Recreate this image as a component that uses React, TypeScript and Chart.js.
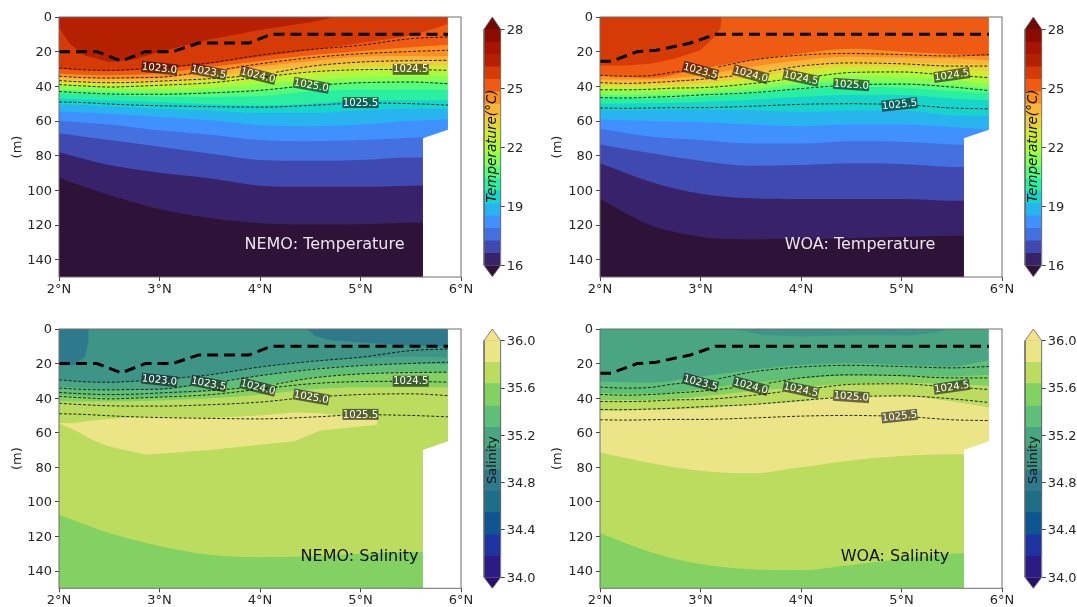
import React, { useEffect, useRef } from "react";
import { Chart, registerables } from "chart.js";

Chart.register(...registerables);

const FONT = "'DejaVu Sans'";
const tickColor = "#262626";
const TICK_SIZE = 13;

const bandLon = [2, 2.5, 3, 3.5, 4, 4.5, 5, 5.5, 5.87];
const lineLon = [2, 2.25, 2.5, 2.75, 3, 3.5, 4, 4.5, 5, 5.5, 5.87];

const tempLevels = [16, 16.63, 17.26, 17.89, 18.53, 19.16, 19.79, 20.42, 21.05, 21.68, 22.32, 22.95, 23.58, 24.21, 24.84, 25.47, 26.11, 26.74, 27.37, 28];
const salLevels = [34, 34.18, 34.36, 34.55, 34.73, 34.91, 35.09, 35.27, 35.45, 35.64, 35.82, 36];
const tempTicks = [16, 19, 22, 25, 28];
const salTicks = [34, 34.4, 34.8, 35.2, 35.6, 36];

// index 0 = below range, last = above range
const tempColors = ["#2f1238", "#38236a", "#4049b0", "#4570e0", "#4090ff", "#28b4ee", "#18d5cc", "#2aefa0", "#54fb7c", "#86fe53", "#aff93c", "#d0ea35", "#ecd03a", "#fbb63a", "#fb8f22", "#ef5b12", "#d63a07", "#b52003", "#a71502", "#8b0a02", "#6f0a08"];
const salColors = ["#2a106c", "#2d1b85", "#1e33a0", "#0f5591", "#1f6e87", "#2e7a8c", "#3f9488", "#4aa584", "#5fbf78", "#83d063", "#bcdc60", "#ece588", "#f7e08a"];

// NEMO temperature: top depth of each band, keyed by band index
const nemoT15 = [30, 31, 29.8, 27, 23, 19, 15, 10.6, 4];
const nemoT14 = [32.7, 33.6, 32.3, 28.8, 25.4, 22, 19.6, 17.5, 16];
const nemoT13 = [34, 35.6, 35, 31.7, 28.5, 25.6, 23, 22.5, 22.7];
const nemoT12 = [36, 37, 36.5, 34.2, 31, 28.3, 26, 25.5, 25.6];
const nemoT11 = [37.5, 38.5, 38, 36, 33.6, 30.8, 28.8, 28, 28];
const nemoT10 = [39, 40, 40, 38.5, 36, 33.6, 31.7, 31.2, 31.3];
const nemoT9 = [40, 41, 41.7, 40.8, 38.5, 36.5, 34.6, 34, 34];
const nemoT8 = [42, 43, 43.6, 43, 42, 39.4, 37.5, 37.3, 37.5];
const nemoT7 = [44, 45, 46, 46, 45.6, 43, 42, 42, 42];
const nemoT6 = [47, 48, 49, 50.4, 51, 50, 48, 48, 48];
const nemoT5 = [50, 51.5, 53, 54, 55.4, 55.4, 53.8, 53, 52.9];
const nemoT4 = [54.4, 55.8, 57.7, 59.6, 62.5, 63, 62, 60, 59];
const nemoT3 = [60, 62, 65.4, 68, 71, 71.7, 71, 69.6, 69];
const nemoT2 = [67, 71, 74.8, 78.7, 82.5, 83, 82.5, 81, 81];
const nemoT1 = [78, 85.4, 89.8, 93, 97.3, 98, 98, 97.3, 97];
const nemoT0 = [92.7, 102.7, 110.8, 116, 119, 119.7, 119.5, 118.7, 118.5];
const nemoTBlobLon = [2, 2.1, 2.25, 2.5, 2.75, 3, 3.5, 4, 4.5, 4.74];
const nemoTBlob = [6, 15, 22, 26, 24.5, 20, 13, 7.5, 3, 0];

// WOA temperature
const woaT14 = [33.6, 35, 29.8, 25, 21, 18.3, 20, 21.5, 22.5];
const woaT13 = [36, 36, 33.6, 28.8, 25, 23, 23.5, 24, 25];
const woaT12 = [37.5, 38, 36.5, 32.3, 28, 26, 26.3, 27, 27.5];
const woaT11 = [39.4, 39.6, 38.5, 35, 30.8, 28.5, 28.8, 30, 31];
const woaT10 = [41, 41.2, 40, 37.7, 34.2, 31, 31.5, 33.5, 35];
const woaT9 = [42.7, 42.8, 42, 39.4, 36.5, 34, 34.6, 36, 38.5];
const woaT8 = [45, 45, 43.8, 42, 38.8, 37.5, 38, 39.4, 41.3];
const woaT7 = [47, 47, 46, 44, 41.7, 40.4, 40.8, 42.7, 44];
const woaT6 = [50, 49.8, 49, 47.7, 46, 44.8, 45, 47, 48];
const woaT5 = [53.8, 53.6, 53.5, 53.8, 54.8, 54, 54, 56.7, 57];
const woaT4 = [59, 60, 60.6, 62, 63, 62, 62, 63.5, 65];
const woaT3 = [64.4, 69, 71, 73, 73, 71.7, 72, 73.5, 74];
const woaT2 = [73.5, 78.5, 83, 85.8, 85.4, 84.4, 84.8, 86.5, 86.7];
const woaT1 = [84.4, 95, 102, 104.6, 105, 105, 105, 106, 106];
const woaT0 = [105, 120, 126.8, 128.3, 128, 127.6, 126.8, 126.2, 126];
const woaTBlobLon = [2, 2.25, 2.5, 2.75, 3, 3.15, 3.2, 3.21];
const woaTBlob = [28, 28, 27, 24, 19, 11, 6, 0];

// NEMO salinity
const nemoS7 = [29, 31, 29, 26.5, 22, 18.5, 17, 16, 16.5];
const nemoS8 = [33.5, 35, 35, 31, 27, 23, 21, 20, 20.5];
const nemoS9 = [38, 39.5, 39, 36, 33, 28, 26, 25, 25];
const nemoS10 = [42, 42, 41.3, 40, 38, 35, 33.7, 33.7, 33.7];
const nemoSBottom = [107.5, 118, 125.5, 130.6, 132, 131.5, 130, 129, 129];
const nemoLensLon = [2, 2.14, 2.33, 2.5, 2.87, 3.5, 4, 4.34, 4.6, 5.17];
const nemoLensTop = [54.4, 54.5, 53, 52, 50.6, 51.5, 50, 48.3, 48.8, 52.5];
const nemoLensBase = [54.6, 58, 64, 68, 72.7, 70, 67, 65, 58.7, 55.4];
const nemoSBlobLeftLon = [2, 2.15, 2.26, 2.29, 2.295];
const nemoSBlobLeft = [21, 21, 16, 8, 0];
const nemoSBlobRightLon = [4.47, 4.55, 4.7, 5.2, 5.5, 5.87];
const nemoSBlobRight = [0, 4, 6.5, 8.5, 9.5, 10];

// WOA salinity
const woaS8 = [30.4, 31, 27.5, 23.7, 20.8, 19.8, 20.8, 21.7, 17.9];
const woaS9 = [37, 37.5, 34.8, 31, 28.5, 27, 27, 27.5, 26.5];
const woaS10 = [41, 41, 39, 36, 33.6, 31.7, 31.3, 31.7, 32.9];
const woaS11 = [47.7, 46.7, 46, 43.8, 42, 38.7, 38.7, 42, 45.4];
const woaS10Low = [71.5, 77.5, 82, 83.5, 80, 76, 73.5, 72.5, 72.5];
const woaSBottom = [118, 129, 136, 139, 139.5, 136.5, 133, 130, 129];
const woaSBlobLon = [3.34, 3.62, 3.99, 4.64, 5.11, 5.38, 5.48];
const woaSBlob = [0, 3.5, 4.4, 3.5, 3.8, 1.5, 0];

// Isopycnals
const nemoRhoNames = ["1023.0", "1023.5", "1024.0", "1024.5", "1025.0", "1025.5"];
const nemoRho0 = [29.4, 30.5, 30.8, 30.2, 29.5, 26.5, 22, 18.8, 16.3, 12.5, 11.5];
const nemoRho1 = [34.2, 35, 35.2, 35, 34.8, 31.5, 27, 23.5, 21.2, 19.9, 19.2];
const nemoRho2 = [36.7, 37.5, 37.9, 37.7, 37, 35.6, 33.5, 28.5, 26, 25.2, 25];
const nemoRho3 = [39, 39.8, 40.4, 40, 39.4, 38, 34.8, 31.7, 30.4, 30.2, 30.8];
const nemoRho4 = [43, 43.8, 44.4, 44.6, 44.6, 43.8, 42.3, 39.4, 37.9, 37.5, 38.5];
const nemoRho5 = [49, 49.4, 50.2, 50.8, 51.2, 51.7, 52, 51, 49.4, 50, 50.8];
const nemoLabelLon = [[3], [3.49], [3.98], [5.5], [4.51], [5]];
const nemoLabelTilt = [[6], [11], [14], [0], [10], [0]];

const woaRhoNames = ["1023.5", "1024.0", "1024.5", "1025.0", "1025.5"];
const woaRho0 = [33.6, 34.2, 33.8, 31.7, 31, 25, 22, 21, 21.7, 22.5, 21.7];
const woaRho1 = [37.9, 38.3, 37.9, 37, 36, 33, 28.3, 26.5, 27, 28.3, 28.3];
const woaRho2 = [42, 42, 41.7, 41, 40.8, 38.5, 35, 32, 31.7, 33.5, 35];
const woaRho3 = [46.5, 46.7, 46.3, 45.8, 45, 43.7, 41.3, 39, 38.7, 40.4, 42.5];
const woaRho4 = [52.5, 52.7, 52.5, 52.3, 52.3, 51.5, 50.4, 50, 50.4, 52.5, 53];
const woaLabelLon = [[3], [3.5], [4, 5.5], [4.5], [4.98]];
const woaLabelTilt = [[15], [15], [12, -8], [4], [-6]];

// Mixed layer depth
const nemoMldLon = [2, 2.38, 2.62, 2.86, 3.13, 3.39, 3.89, 4.11, 5.87];
const nemoMld = [20, 20, 25.4, 20, 20, 15, 15, 10, 10];
const woaMldLon = [2, 2.11, 2.37, 2.56, 2.9, 3.15, 5.87];
const woaMld = [25.6, 25.6, 20, 19.2, 15, 10, 10];

// No-data area
const maskLon = [5.62, 5.62, 5.87, 5.87, 6];
const maskDepth = [150, 70, 65, 0, 0];

const zip = (xs: number[], ys: (number | null)[]) => xs.map((x, i) => ({ x, y: ys[i] }));

function depthAt(lons: number[], ds: number[], lon: number) {
  for (let i = 1; i < lons.length; i++) {
    if (lon <= lons[i]) {
      const t = (lon - lons[i - 1]) / (lons[i] - lons[i - 1]);
      return ds[i - 1] + t * (ds[i] - ds[i - 1]);
    }
  }
  return ds[ds.length - 1];
}

function withGaps(lons: number[], ds: number[], centres: number[]) {
  const half = 0.18;
  const all: { x: number; y: number | null }[] = [];
  const inGap = (x: number) => centres.some((c) => Math.abs(x - c) < half);
  lons.forEach((x, i) => {
    if (!inGap(x)) all.push({ x, y: ds[i] });
    centres.forEach((c) => {
      const next = lons[i + 1];
      if (next === undefined) return;
      if (x < c - half && next > c - half) all.push({ x: c - half, y: depthAt(lons, ds, c - half) });
      if (x < c && next >= c) all.push({ x: c, y: null });
      if (x < c + half && next > c + half) all.push({ x: c + half, y: depthAt(lons, ds, c + half) });
    });
  });
  return all;
}

const fillBand = (lons: number[], ds: number[], color: string, to = 150, smooth = true) => ({
  data: zip(lons, ds),
  borderWidth: 0,
  borderColor: "transparent",
  backgroundColor: color,
  pointRadius: 0,
  fill: { value: to },
  ...(smooth ? { cubicInterpolationMode: "monotone" } : { tension: 0 }),
});

const edgeOnly = (lons: number[], ds: number[]) => ({
  data: zip(lons, ds),
  borderWidth: 0,
  borderColor: "transparent",
  pointRadius: 0,
  fill: false,
  tension: 0,
});

const fillToPrevious = (lons: number[], ds: number[], color: string) => ({
  data: zip(lons, ds),
  borderWidth: 0,
  borderColor: "transparent",
  backgroundColor: color,
  pointRadius: 0,
  fill: "-1",
  tension: 0,
});

interface PanelSpec {
  left: number; right: number; top: number; bottom: number;
  canvasLeft: number; canvasTop: number; canvasW: number; canvasH: number;
  layers: any[];
  rhoNames: string[]; rhos: number[][]; labelLon: number[][]; labelTilt: number[][];
  mldLon: number[]; mld: number[];
  title: string; titleColor: string; titleX: number; titleY: number;
}

function buildPanel(canvas: HTMLCanvasElement, p: PanelSpec) {
  const rhoSets = p.rhos.map((ds, i) => ({
    data: withGaps(lineLon, ds, p.labelLon[i]),
    borderColor: "#111",
    borderWidth: 0.9,
    borderDash: [3, 1.8],
    pointRadius: 0,
    fill: false,
    spanGaps: false,
    cubicInterpolationMode: "monotone",
  }));
  const mldSet = {
    data: zip(p.mldLon, p.mld),
    borderColor: "#000",
    borderWidth: 3,
    borderDash: [11, 6],
    pointRadius: 0,
    fill: false,
    tension: 0,
  };
  const mask = {
    data: zip(maskLon, maskDepth),
    borderWidth: 0,
    borderColor: "transparent",
    backgroundColor: "#fff",
    pointRadius: 0,
    fill: { value: 150 },
    tension: 0,
  };
  const all = [...p.layers, mask, ...rhoSets, mldSet].map((d, i, arr) => ({ ...d, order: arr.length - i }));
  const overlay = {
    id: "overlay",
    afterDatasetsDraw(chart: any) {
      const { ctx, chartArea: a, scales } = chart;
      ctx.save();
      ctx.textAlign = "center";
      ctx.textBaseline = "middle";
      ctx.font = `10.1px ${FONT}`;
      p.rhos.forEach((ds, i) => {
        p.labelLon[i].forEach((lon, j) => {
          const cx = scales.x.getPixelForValue(lon);
          const cy = scales.y.getPixelForValue(depthAt(lineLon, ds, lon));
          ctx.save();
          ctx.translate(cx, cy);
          ctx.rotate((p.labelTilt[i][j] * Math.PI) / 180);
          ctx.fillStyle = "rgba(0,0,0,0.55)";
          ctx.fillRect(-18, -5.5, 36, 11);
          ctx.fillStyle = "#fff";
          ctx.fillText(p.rhoNames[i], 0, 0.5);
          ctx.restore();
        });
      });
      ctx.fillStyle = p.titleColor;
      ctx.font = `16px ${FONT}`;
      ctx.fillText(p.title, p.titleX - p.canvasLeft, p.titleY - p.canvasTop);
      ctx.strokeStyle = "#6e6e6e";
      ctx.lineWidth = 1;
      ctx.strokeRect(a.left, a.top, a.right - a.left, a.bottom - a.top);
      ctx.restore();
    },
  };
  return new Chart(canvas, {
    type: "line",
    data: { datasets: all as any },
    plugins: [overlay],
    options: {
      animation: false,
      responsive: false,
      events: [],
      layout: {
        padding: {
          left: 0,
          top: p.top - p.canvasTop,
          right: p.canvasLeft + p.canvasW - p.right,
          bottom: 0,
        },
      },
      plugins: { legend: { display: false }, tooltip: { enabled: false }, title: { display: false } },
      scales: {
        x: {
          type: "linear",
          min: 2,
          max: 6,
          border: { display: false },
          grid: { drawOnChartArea: false, drawTicks: true, tickLength: 4, tickColor: "#444" },
          ticks: {
            stepSize: 1,
            includeBounds: false,
            maxRotation: 0,
            padding: 1,
            color: tickColor,
            font: { family: FONT, size: TICK_SIZE },
            callback: (v: any) => `${v}°N`,
          },
          afterFit: (s: any) => { s.height = p.canvasTop + p.canvasH - p.bottom; },
        },
        y: {
          type: "linear",
          reverse: true,
          min: 0,
          max: 150,
          border: { display: false },
          grid: { drawOnChartArea: false, drawTicks: true, tickLength: 4, tickColor: "#444" },
          title: { display: true, text: "(m)", color: tickColor, font: { family: FONT, size: TICK_SIZE }, padding: { top: 10, bottom: 0 } },
          ticks: {
            stepSize: 20,
            includeBounds: false,
            padding: 3,
            labelOffset: 1,
            color: tickColor,
            font: { family: FONT, size: TICK_SIZE },
          },
          afterFit: (s: any) => { s.width = p.left - p.canvasLeft; },
        },
      },
    } as any,
  });
}

interface BarSpec {
  left: number; right: number; top: number; bottom: number;
  canvasLeft: number; canvasTop: number; canvasW: number; canvasH: number;
  levels: number[]; colors: string[]; ticks: number[]; min: number; max: number;
  label: string; italic: boolean; labelY: number; labelSize: number; decimals: number;
}

function buildBar(canvas: HTMLCanvasElement, b: BarSpec) {
  const lo = b.levels[0];
  const hi = b.levels[b.levels.length - 1];
  const cols = b.colors;
  const sets: any[] = [];
  const base = { borderWidth: 0, borderColor: "transparent", pointRadius: 0, tension: 0 };
  b.levels.slice(0, -1).forEach((lev, i) => {
    sets.push({ ...base, data: [{ x: 0, y: lev }, { x: 1, y: lev }], backgroundColor: cols[i + 1], fill: { value: hi } });
  });
  sets.push({ ...base, data: [{ x: 0, y: lo }, { x: 0.5, y: b.min }, { x: 1, y: lo }], backgroundColor: cols[0], fill: { value: lo } });
  sets.push({ ...base, data: [{ x: 0, y: hi }, { x: 0.5, y: b.max }, { x: 1, y: hi }], backgroundColor: cols[cols.length - 1], fill: { value: hi } });
  sets.push({
    data: [{ x: 0, y: lo }, { x: 0.5, y: b.min }, { x: 1, y: lo }, { x: 1, y: hi }, { x: 0.5, y: b.max }, { x: 0, y: hi }, { x: 0, y: lo }],
    borderColor: "#666",
    borderWidth: 0.8,
    pointRadius: 0,
    fill: false,
    tension: 0,
    clip: 2,
  });
  const all = sets.map((d, i, arr) => ({ ...d, order: arr.length - i }));
  const overlay = {
    id: "barLabel",
    afterDatasetsDraw(chart: any) {
      const { ctx, chartArea: a } = chart;
      ctx.save();
      ctx.translate((a.left + a.right) / 2, b.labelY - b.canvasTop);
      ctx.rotate(-Math.PI / 2);
      ctx.textAlign = "center";
      ctx.textBaseline = "middle";
      ctx.fillStyle = "#111";
      ctx.font = `${b.italic ? "italic " : ""}${b.labelSize}px ${FONT}`;
      ctx.fillText(b.label, 0, 0);
      ctx.restore();
    },
  };
  return new Chart(canvas, {
    type: "line",
    data: { datasets: all },
    plugins: [overlay],
    options: {
      animation: false,
      responsive: false,
      events: [],
      layout: { padding: { left: b.left - b.canvasLeft, top: b.top - b.canvasTop, right: 0, bottom: b.canvasTop + b.canvasH - b.bottom } },
      plugins: { legend: { display: false }, tooltip: { enabled: false } },
      scales: {
        x: { type: "linear", min: 0, max: 1, display: false },
        y: {
          type: "linear",
          position: "right",
          min: b.min,
          max: b.max,
          border: { display: false },
          grid: { drawOnChartArea: false, drawTicks: true, tickLength: 4, tickColor: "#444" },
          ticks: {
            padding: 2,
            labelOffset: 1,
            color: tickColor,
            font: { family: FONT, size: TICK_SIZE },
            autoSkip: false,
            callback: (v: any) => Number(v).toFixed(b.decimals),
          },
          afterBuildTicks: (s: any) => { s.ticks = b.ticks.map((value) => ({ value })); },
          afterFit: (s: any) => { s.width = b.canvasLeft + b.canvasW - b.right; },
        },
      },
    } as any,
  });
}

const nemoTempLayers = () => {
  const bands = [nemoT15, nemoT14, nemoT13, nemoT12, nemoT11, nemoT10, nemoT9, nemoT8, nemoT7, nemoT6, nemoT5, nemoT4, nemoT3, nemoT2, nemoT1, nemoT0];
  return [
    fillBand([2, 5.87], [0, 0], tempColors[16], 150, false),
    fillBand(nemoTBlobLon, nemoTBlob, tempColors[17], 0, false),
    ...bands.map((d, i) => fillBand(bandLon, d, tempColors[15 - i])),
  ];
};
const woaTempLayers = () => {
  const bands = [woaT14, woaT13, woaT12, woaT11, woaT10, woaT9, woaT8, woaT7, woaT6, woaT5, woaT4, woaT3, woaT2, woaT1, woaT0];
  return [
    fillBand([2, 5.87], [0, 0], tempColors[15], 150, false),
    fillBand(woaTBlobLon, woaTBlob, tempColors[16], 0, false),
    ...bands.map((d, i) => fillBand(bandLon, d, tempColors[14 - i])),
  ];
};
const nemoSalLayers = () => [
  fillBand([2, 5.87], [0, 0], salColors[6], 150, false),
  fillBand(nemoSBlobLeftLon, nemoSBlobLeft, salColors[5], 0, false),
  fillBand(nemoSBlobRightLon, nemoSBlobRight, salColors[5], 0, false),
  fillBand(bandLon, nemoS7, salColors[7]),
  fillBand(bandLon, nemoS8, salColors[8]),
  fillBand(bandLon, nemoS9, salColors[9]),
  fillBand(bandLon, nemoS10, salColors[10]),
  edgeOnly(nemoLensLon, nemoLensTop),
  fillToPrevious(nemoLensLon, nemoLensBase, salColors[11]),
  fillBand(bandLon, nemoSBottom, salColors[9]),
];
const woaSalLayers = () => [
  fillBand([2, 5.87], [0, 0], salColors[7], 150, false),
  fillBand(woaSBlobLon, woaSBlob, salColors[6], 0, false),
  fillBand(bandLon, woaS8, salColors[8]),
  fillBand(bandLon, woaS9, salColors[9]),
  fillBand(bandLon, woaS10, salColors[10]),
  fillBand(bandLon, woaS11, salColors[11]),
  fillBand(bandLon, woaS10Low, salColors[10]),
  fillBand(bandLon, woaSBottom, salColors[9]),
];

const nemoRhos = [nemoRho0, nemoRho1, nemoRho2, nemoRho3, nemoRho4, nemoRho5];
const woaRhos = [woaRho0, woaRho1, woaRho2, woaRho3, woaRho4];

const rowT = { top: 17, bottom: 277, canvasTop: 0, canvasH: 305 };
const rowS = { top: 329, bottom: 588.3, canvasTop: 305, canvasH: 302 };
const colL = { left: 59, right: 461, canvasLeft: 0, canvasW: 480 };
const colR = { left: 600, right: 1002, canvasLeft: 540, canvasW: 482 };
const barL = { left: 484, right: 500.7, canvasLeft: 470, canvasW: 70 };
const barR = { left: 1025, right: 1041.7, canvasLeft: 1010, canvasW: 67 };

const nemoLines = { rhoNames: nemoRhoNames, rhos: nemoRhos, labelLon: nemoLabelLon, labelTilt: nemoLabelTilt, mldLon: nemoMldLon, mld: nemoMld };
const woaLines = { rhoNames: woaRhoNames, rhos: woaRhos, labelLon: woaLabelLon, labelTilt: woaLabelTilt, mldLon: woaMldLon, mld: woaMld };

const tempBar = { levels: tempLevels, colors: tempColors, ticks: tempTicks, min: 15.42, max: 28.625, label: "Temperature(°C)", italic: true, labelY: 146, labelSize: 13.5, decimals: 0 };
const salBar = { levels: salLevels, colors: salColors, ticks: salTicks, min: 33.907, max: 36.099, label: "Salinity", italic: false, labelY: 460, labelSize: 13, decimals: 1 };

const panels: PanelSpec[] = [
  { ...colL, ...rowT, ...nemoLines, layers: nemoTempLayers(), title: "NEMO: Temperature", titleColor: "#ece6ec", titleX: 324.5, titleY: 245 },
  { ...colR, ...rowT, ...woaLines, layers: woaTempLayers(), title: "WOA: Temperature", titleColor: "#ece6ec", titleX: 860, titleY: 245 },
  { ...colL, ...rowS, ...nemoLines, layers: nemoSalLayers(), title: "NEMO: Salinity", titleColor: "#111", titleX: 359.5, titleY: 557 },
  { ...colR, ...rowS, ...woaLines, layers: woaSalLayers(), title: "WOA: Salinity", titleColor: "#111", titleX: 895, titleY: 557 },
];
const bars: BarSpec[] = [
  { ...barL, ...rowT, ...tempBar, bottom: 276.7 },
  { ...barR, ...rowT, ...tempBar, bottom: 276.7 },
  { ...barL, ...rowS, ...salBar },
  { ...barR, ...rowS, ...salBar },
];

export default function App() {
  const refs = useRef<(HTMLCanvasElement | null)[]>([]);
  useEffect(() => {
    const charts = [
      ...panels.map((p, i) => buildPanel(refs.current[i]!, p)),
      ...bars.map((b, i) => buildBar(refs.current[i + panels.length]!, b)),
    ];
    return () => charts.forEach((c) => c.destroy());
  }, []);
  const boxes = [...panels, ...bars];
  return (
    <div style={{ position: "absolute", left: 0, top: 0, width: 1077, height: 607, overflow: "hidden", background: "#fff", filter: "blur(0.45px)" }}>
      {boxes.map((b, i) => (
        <canvas
          key={i}
          ref={(el) => { refs.current[i] = el; }}
          width={b.canvasW}
          height={b.canvasH}
          style={{ position: "absolute", left: b.canvasLeft, top: b.canvasTop, width: b.canvasW, height: b.canvasH }}
        />
      ))}
    </div>
  );
}
